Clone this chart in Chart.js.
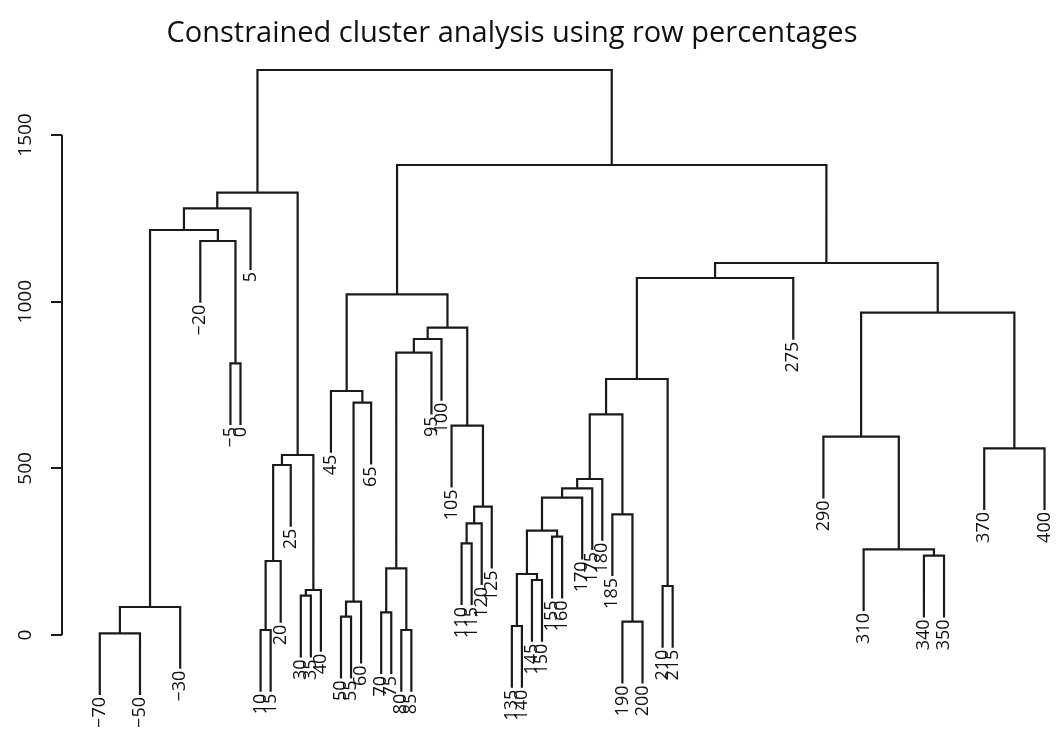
<!DOCTYPE html>
<html>
<head>
<meta charset="utf-8">
<script src="https://cdn.jsdelivr.net/npm/chart.js@4.4.1/dist/chart.umd.min.js"></script>
<style>
html,body{margin:0;padding:0;background:#fff;}
</style>
</head>
<body>
<canvas id="dendro" width="1060" height="730"></canvas>
<script>

// leaves, left to right (depth of each sample)
const leafDepths = [-70,-50,-30,-20,-5,0,5,10,15,20,25,30,35,40,45,50,55,60,65,
70,75,80,85,95,100,105,110,115,120,125,135,140,145,150,155,160,
170,175,180,185,190,200,210,215,275,290,310,340,350,370,400];

// merges: a number is a leaf depth, "mN" is an earlier merge
const mergePairs = [
[-70,-50],["m0",-30],[-5,0],[-20,"m2"],["m1","m3"],["m4",5],
[10,15],["m6",20],["m7",25],[30,35],["m9",40],["m8","m10"],["m5","m11"],
[50,55],["m13",60],["m14",65],[45,"m15"],
[70,75],[80,85],["m17","m18"],["m19",95],["m20",100],
[110,115],["m22",120],["m23",125],[105,"m24"],["m21","m25"],["m16","m26"],
[135,140],[145,150],["m28","m29"],[155,160],["m30","m31"],["m32",170],["m33",175],["m34",180],
[190,200],[185,"m36"],["m35","m37"],[210,215],["m38","m39"],["m40",275],
[340,350],[310,"m42"],[290,"m43"],[370,400],["m44","m45"],["m41","m46"],
["m27","m47"],["m12","m48"]
];

const mergeHeights = [
5,84,815,1182,1215,1280,
15,222,510,118,135,540,1327,
55,100,697,732,
68,15,200,847,888,
275,335,385,628,922,1022,
27,165,183,295,313,412,440,468,
40,362,662,147,768,1071,
238,257,595,560,967,1116,
1410,1695
];

const yTicks = [0,500,1000,1500];
const hang = 182;
const title = "Constrained cluster analysis using row percentages";


// build the dendrogram segments
const nodeX = {};
const nodeH = {};
const linePoints = [];
const leafEnds = [];

function childPos(c, h){
if(typeof c === "number"){
return {x:c, y:h-hang};
}
return {x:nodeX[c], y:nodeH[c]};
}

mergePairs.forEach((p, i) => {
const id = "m"+i;
const h = mergeHeights[i];
const a = childPos(p[0], h);
const b = childPos(p[1], h);
nodeX[id] = (a.x+b.x)/2;
nodeH[id] = h;
linePoints.push(
{x:a.x, y:a.y},
{x:a.x, y:h},
{x:b.x, y:h},
{x:b.x, y:b.y},
{x:b.x, y:null}
);
if(typeof p[0] === "number") leafEnds.push({depth:p[0], y:a.y});
if(typeof p[1] === "number") leafEnds.push({depth:p[1], y:b.y});
});


const textPlugin = {
id:"dendroText",
afterDraw(chart){
const ctx = chart.ctx;
const xs = chart.scales.x;
const ys = chart.scales.y;
const left = chart.chartArea.left;
ctx.save();

// title
ctx.fillStyle = "#111";
ctx.font = '29px "Open Sans"';
ctx.textAlign = "center";
ctx.textBaseline = "alphabetic";
ctx.fillText(title, 512, 42);

// axis line, only over the tick range
ctx.strokeStyle = "#1c1c1c";
ctx.lineWidth = 2;
ctx.beginPath();
ctx.moveTo(left, ys.getPixelForValue(yTicks[0]));
ctx.lineTo(left, ys.getPixelForValue(yTicks[yTicks.length-1]));
ctx.stroke();

// y tick labels, rotated like R
ctx.font = '19px "Open Sans"';
ctx.textAlign = "center";
ctx.textBaseline = "middle";
yTicks.forEach(v => {
ctx.save();
ctx.translate(left-36, ys.getPixelForValue(v));
ctx.rotate(-Math.PI/2);
ctx.fillText(String(v), 0, 0);
ctx.restore();
});

// leaf labels hanging under each leaf
ctx.font = '18px "Open Sans"';
ctx.textAlign = "right";
leafEnds.forEach(l => {
ctx.save();
ctx.translate(xs.getPixelForValue(l.depth), ys.getPixelForValue(l.y)+3);
ctx.rotate(-Math.PI/2);
ctx.fillText(String(l.depth).replace("-","\u2212"), 0, 0);
ctx.restore();
});

ctx.restore();
}
};


new Chart(
document.getElementById("dendro"),
{
type:"scatter",
data:{
datasets:[{
data:linePoints,
showLine:true,
spanGaps:false,
borderColor:"#1a1a1a",
borderWidth:2.2,
pointRadius:0,
borderJoinStyle:"miter",
borderCapStyle:"square"
}]
},
options:{
responsive:false,
animation:false,
devicePixelRatio:1,
layout:{padding:{top:52,left:0,right:0,bottom:0}},
plugins:{
legend:{display:false},
tooltip:{enabled:false},
title:{display:false}
},
scales:{
x:{
type:"linear",
min:-88.8,
max:407.7,
display:false
},
y:{
type:"linear",
min:-285,
max:1749,
afterBuildTicks:(scale) => {
scale.ticks = yTicks.map(v => ({value:v}));
},
afterFit:(scale) => {
scale.width = 62;
},
ticks:{display:false},
grid:{
drawOnChartArea:false,
drawTicks:true,
tickLength:11,
color:"#1c1c1c",
lineWidth:2
},
border:{display:false}
}
}
},
plugins:[textPlugin]
});

</script>
</body>
</html>
